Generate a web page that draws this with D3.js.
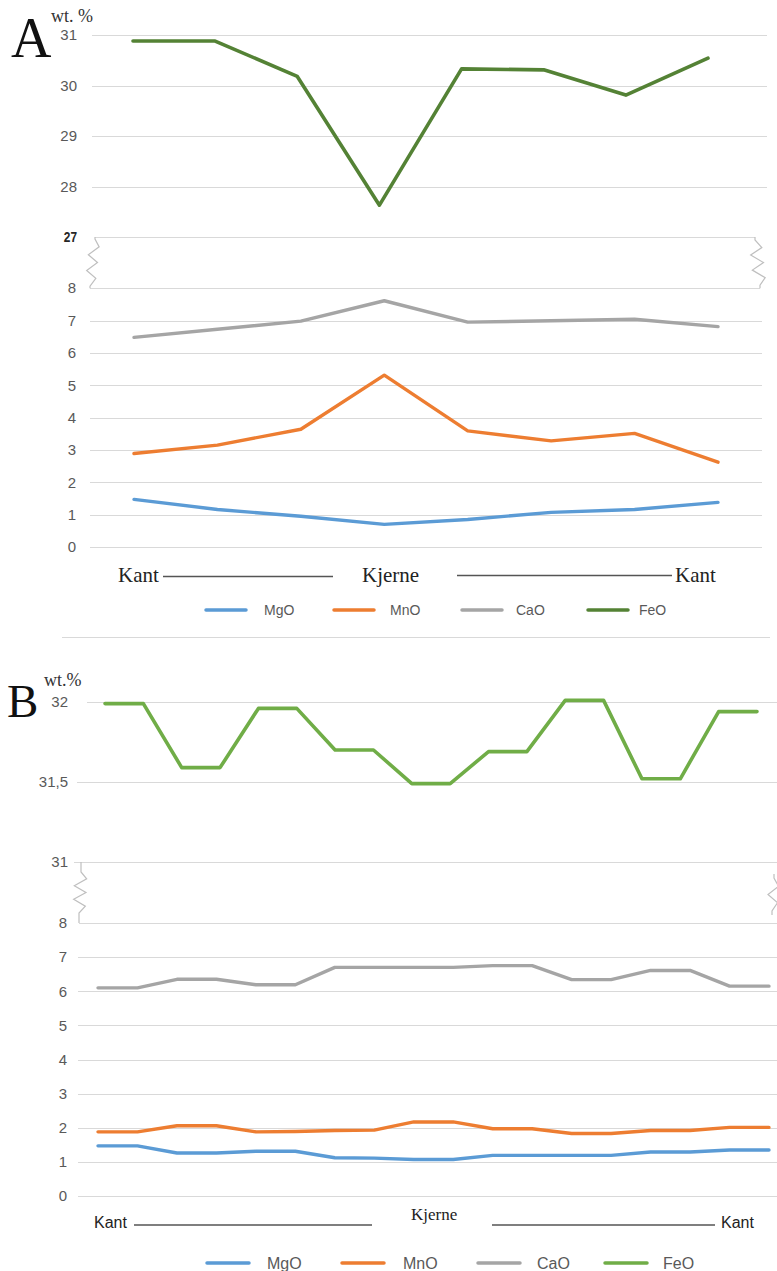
<!DOCTYPE html>
<html>
<head>
<meta charset="utf-8">
<script src="https://cdn.jsdelivr.net/npm/d3@7"></script>
<style>
  html, body { margin: 0; padding: 0; background: #fff; }
  svg { display: block; }
</style>
</head>
<body>
<div id="chart"></div>
<script>
// Panel A data (8 analysis points, rim - core - rim)
const catsA = ["a1", "a2", "a3", "a4", "a5", "a6", "a7", "a8"];
const mgoA = [1.47, 1.16, 0.95, 0.70, 0.85, 1.07, 1.16, 1.38];
const mnoA = [2.89, 3.15, 3.64, 5.31, 3.59, 3.28, 3.51, 2.62];
const caoA = [6.48, 6.73, 6.98, 7.61, 6.95, 6.99, 7.04, 6.81];
const feoA = [30.88, 30.88, 30.18, 27.63, 30.33, 30.31, 29.81, 30.54];
const ticksAUpper = [31, 30, 29, 28, 27];
const ticksALower = [8, 7, 6, 5, 4, 3, 2, 1, 0];

// Panel B data (18 analysis points)
const catsB = ["b1", "b2", "b3", "b4", "b5", "b6", "b7", "b8", "b9",
               "b10", "b11", "b12", "b13", "b14", "b15", "b16", "b17", "b18"];
const mgoB = [1.47, 1.47, 1.26, 1.26, 1.31, 1.31, 1.12, 1.11, 1.07,
              1.07, 1.19, 1.19, 1.19, 1.19, 1.29, 1.29, 1.35, 1.35];
const mnoB = [1.88, 1.88, 2.06, 2.06, 1.88, 1.89, 1.92, 1.93, 2.17,
              2.17, 1.97, 1.97, 1.83, 1.83, 1.92, 1.92, 2.01, 2.01];
const caoB = [6.10, 6.10, 6.35, 6.35, 6.19, 6.19, 6.70, 6.70, 6.70,
              6.70, 6.75, 6.75, 6.34, 6.34, 6.61, 6.61, 6.15, 6.15];
const feoB = [31.99, 31.99, 31.59, 31.59, 31.96, 31.96, 31.70, 31.70, 31.49,
              31.49, 31.69, 31.69, 32.01, 32.01, 31.52, 31.52, 31.94, 31.94];
const ticksBUpper = [32, 31.5, 31];
const ticksBLower = [8, 7, 6, 5, 4, 3, 2, 1, 0];

const colors = {
  MgO: "#5b9bd5",
  MnO: "#ed7d31",
  CaO: "#a5a5a5",
  FeOA: "#548235",
  FeOB: "#70ad47"
};
const gridColor = "#d9d9d9";
const labelColor = "#595959";
const sans = "'Liberation Sans', Arial, sans-serif";
const serif = "'Liberation Serif', 'Times New Roman', serif";

const svg = d3.select("#chart")
  .append("svg")
  .attr("width", 777)
  .attr("height", 1271);

// helpers
function gridlines(y, ticks, x0, x1) {
  svg.append("g")
    .selectAll("line")
    .data(ticks)
    .enter()
    .append("line")
    .attr("x1", x0)
    .attr("x2", x1)
    .attr("y1", d => Math.round(y(d)) + 0.5)
    .attr("y2", d => Math.round(y(d)) + 0.5)
    .attr("stroke", gridColor)
    .attr("stroke-width", 1.2);
}

function yLabels(y, ticks, xPos, fmt, size) {
  const g = svg.append("g")
    .attr("transform", `translate(${xPos},0)`)
    .call(d3.axisLeft(y).tickValues(ticks).tickSize(0).tickPadding(0).tickFormat(fmt));
  g.select(".domain").remove();
  g.selectAll("text")
    .attr("fill", labelColor)
    .style("font-family", sans)
    .style("font-size", size + "px");
  return g;
}

function series(x, y, values, color, width = 3.4) {
  const line = d3.line()
    .x((d, i) => x(x.domain()[i]))
    .y(d => y(d));
  svg.append("path")
    .datum(values)
    .attr("d", line)
    .attr("fill", "none")
    .attr("stroke", color)
    .attr("stroke-width", width)
    .attr("stroke-linejoin", "round")
    .attr("stroke-linecap", "round");
}

// axis break: zigzag between two y positions
function zigzag(xTop, yTop, xBot, yBot, amp, n, lead) {
  const pts = [[xTop, yTop], [xTop, yTop + lead]];
  const span = (yBot - lead) - (yTop + lead);
  for (let i = 1; i <= n; i++) {
    const t = i / (n + 1);
    const xm = xTop + (xBot - xTop) * t;
    pts.push([xm + (i % 2 ? amp : -amp), yTop + lead + span * t]);
  }
  pts.push([xBot, yBot - lead], [xBot, yBot]);
  svg.append("path")
    .attr("d", d3.line()(pts))
    .attr("fill", "none")
    .attr("stroke", "#bfbfbf")
    .attr("stroke-width", 1.2);
}

function legend(yPos, items, fontSize, color4) {
  const g = svg.append("g");
  items.forEach(it => {
    g.append("line")
      .attr("x1", it.x).attr("x2", it.x + it.len)
      .attr("y1", yPos).attr("y2", yPos)
      .attr("stroke", it.name === "FeO" ? color4 : colors[it.name])
      .attr("stroke-width", 3.5)
      .attr("stroke-linecap", "round");
    g.append("text")
      .attr("x", it.tx).attr("y", yPos)
      .attr("dy", "0.36em")
      .attr("fill", labelColor)
      .style("font-family", sans)
      .style("font-size", fontSize + "px")
      .text(it.name);
  });
}

function rimCoreRow(yPos, parts, font, size) {
  parts.forEach(p => {
    if (p.text) {
      svg.append("text")
        .attr("x", p.x).attr("y", p.y || yPos)
        .attr("dy", "0.35em")
        .attr("fill", "#222")
        .style("font-family", p.font || font)
        .style("font-size", (p.size || size) + "px")
        .text(p.text);
    } else {
      svg.append("line")
        .attr("x1", p.x0).attr("x2", p.x1)
        .attr("y1", p.y).attr("y2", p.y)
        .attr("stroke", "#555")
        .attr("stroke-width", 1.3);
    }
  });
}

// ---------------- Panel A ----------------
const xAU = d3.scalePoint().domain(catsA).range([133, 708]);
const xAL = d3.scalePoint().domain(catsA).range([134, 718]);
const yAU = d3.scaleLinear().domain([27, 31]).range([237, 35]);
const yAL = d3.scaleLinear().domain([0, 7]).range([547, 320.5]);

gridlines(yAU, ticksAUpper.filter(d => d !== 27), 92, 767);
gridlines(yAU, [27], 95, 755);
gridlines(yAL, [8], 90, 760);
gridlines(yAL, ticksALower.filter(d => d !== 8), 90, 762);
zigzag(95, yAU(27), 90, yAL(8), 5, 5, 2);
zigzag(755, yAU(27), 760, yAL(8), 6, 5, 3);

const labAU = yLabels(yAU, ticksAUpper, 77, d3.format("d"), 15);
labAU.selectAll("text")
  .filter(d => d === 27)
  .attr("fill", "#262626")
  .style("font-weight", "bold")
  .style("font-size", "14px")
  .attr("transform", "scale(0.85,1)");
yLabels(yAL, ticksALower, 76, d3.format("d"), 15);

series(xAU, yAU, feoA, colors.FeOA, 3.6);
series(xAL, yAL, caoA, colors.CaO);
series(xAL, yAL, mnoA, colors.MnO);
series(xAL, yAL, mgoA, colors.MgO);

svg.append("text")
  .attr("x", 11).attr("y", 57)
  .style("font-family", serif).style("font-size", "56px")
  .attr("fill", "#111")
  .text("A");
svg.append("text")
  .attr("x", 51).attr("y", 22)
  .style("font-family", serif).style("font-size", "18px")
  .attr("fill", "#333")
  .text("wt. %");

rimCoreRow(575, [
  { text: "Kant", x: 118 },
  { x0: 163, x1: 333, y: 576.5 },
  { text: "Kjerne", x: 362 },
  { x0: 457, x1: 672, y: 575.5 },
  { text: "Kant", x: 675 }
], serif, 21);

legend(610, [
  { name: "MgO", x: 206, len: 40, tx: 264 },
  { name: "MnO", x: 334, len: 40, tx: 390 },
  { name: "CaO", x: 462, len: 40, tx: 516 },
  { name: "FeO", x: 588, len: 40, tx: 639 }
], 14, colors.FeOA);

svg.append("line")
  .attr("x1", 62).attr("x2", 770)
  .attr("y1", 637.5).attr("y2", 637.5)
  .attr("stroke", gridColor)
  .attr("stroke-width", 1.2);

// ---------------- Panel B ----------------
const xBU = d3.scalePoint().domain(catsB).range([105, 757]);
const xBL = d3.scalePoint().domain(catsB).range([98, 769]);
const yBU = d3.scaleLinear().domain([31, 32]).range([862, 702]);
const yBL = d3.scaleLinear().domain([0, 8]).range([1196, 923]);

gridlines(yBU, [32], 87, 777);
gridlines(yBU, [31.5], 77, 777);
gridlines(yBU, [31], 74, 777);
gridlines(yBL, [8], 79, 777);
gridlines(yBL, ticksBLower.filter(d => d !== 8), 78, 777);
zigzag(81, yBU(31), 79, yBL(8), 6, 5, 10);
zigzag(774, yBU(31) + 12, 772, yBL(8) - 8, 5, 3, 4);

const commaFmt = d => String(d).replace(".", ",");
yLabels(yBU, ticksBUpper, 68, commaFmt, 15);
yLabels(yBL, ticksBLower, 67, d3.format("d"), 15);

series(xBU, yBU, feoB, colors.FeOB, 3.6);
series(xBL, yBL, caoB, colors.CaO);
series(xBL, yBL, mnoB, colors.MnO);
series(xBL, yBL, mgoB, colors.MgO);

svg.append("text")
  .attr("x", 7).attr("y", 717)
  .style("font-family", serif).style("font-size", "47px")
  .attr("fill", "#111")
  .text("B");
svg.append("text")
  .attr("x", 44).attr("y", 686)
  .style("font-family", serif).style("font-size", "18px")
  .attr("fill", "#333")
  .text("wt.%");

rimCoreRow(1222, [
  { text: "Kant", x: 94 },
  { x0: 134, x1: 372, y: 1225 },
  { text: "Kjerne", x: 411, y: 1214, font: serif, size: 17 },
  { x0: 492, x1: 715, y: 1225 },
  { text: "Kant", x: 721 }
], sans, 16);

legend(1263, [
  { name: "MgO", x: 207, len: 42, tx: 267 },
  { name: "MnO", x: 342, len: 42, tx: 403 },
  { name: "CaO", x: 478, len: 42, tx: 537 },
  { name: "FeO", x: 605, len: 42, tx: 663 }
], 16, colors.FeOB);
</script>
</body>
</html>
